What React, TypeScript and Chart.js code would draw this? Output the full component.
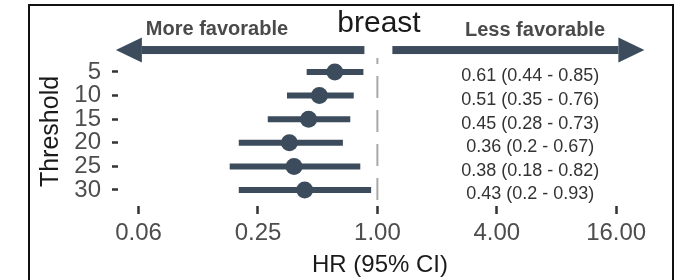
import React, { useEffect, useRef } from 'react';
import { Chart, registerables } from 'chart.js';

Chart.register(...registerables);

// ---- data ----
const thresholds = ['5', '10', '15', '20', '25', '30'];
const hrValues = [0.61, 0.51, 0.45, 0.36, 0.38, 0.43];
const ciLower = [0.44, 0.35, 0.28, 0.2, 0.18, 0.2];
const ciUpper = [0.85, 0.76, 0.73, 0.67, 0.82, 0.93];
const xTickValues = [0.0625, 0.25, 1, 4, 16];
const xTickLabels = ['0.06', '0.25', '1.00', '4.00', '16.00'];
const refValue = 1;
const titleText = 'breast';
const leftNote = 'More favorable';
const rightNote = 'Less favorable';
const xTitle = 'HR (95% CI)';
const yTitle = 'Threshold';
// arrow annotations (in HR units), and the row at which they sit
const leftArrow = [0.86, 0.048];
const rightArrow = [1.19, 22.2];
const arrowRow = -0.93;
const labelColumnHR = 5.9;

const FONT = "'Liberation Sans', Arial, Helvetica, sans-serif";
const MARK = '#3c4c5c';

const annotPlugin = {
  id: 'annot',
  beforeDatasetsDraw(chart: any) {
    const { ctx, chartArea, scales } = chart;
    const px = scales.x.getPixelForValue(refValue);
    ctx.save();
    ctx.strokeStyle = '#a8a8a8';
    ctx.lineWidth = 2;
    ctx.setLineDash([22, 12]);
    ctx.lineDashOffset = 16;
    ctx.beginPath();
    ctx.moveTo(px, chartArea.top);
    ctx.lineTo(px, chartArea.bottom);
    ctx.stroke();
    ctx.restore();
  },
  afterDraw(chart: any) {
    const { ctx, scales } = chart;
    const x = scales.x;
    const y = scales.y;
    ctx.save();

    // arrows
    const drawArrow = (from: number, to: number) => {
      const x0 = x.getPixelForValue(from);
      const x1 = x.getPixelForValue(to);
      const yy = y.getPixelForValue(arrowRow);
      const dir = x1 > x0 ? 1 : -1;
      const headLen = 26;
      const headHalf = 12.5;
      const base = x1 - dir * headLen;
      ctx.fillStyle = MARK;
      ctx.fillRect(Math.min(x0, base), yy - 4, Math.abs(base - x0), 8);
      ctx.beginPath();
      ctx.moveTo(x1, yy);
      ctx.lineTo(base, yy - headHalf);
      ctx.lineTo(base, yy + headHalf);
      ctx.closePath();
      ctx.fill();
    };
    drawArrow(leftArrow[0], leftArrow[1]);
    drawArrow(rightArrow[0], rightArrow[1]);

    // notes
    ctx.fillStyle = '#4a4a4a';
    ctx.font = `bold 20px ${FONT}`;
    ctx.textAlign = 'center';
    ctx.textBaseline = 'alphabetic';
    ctx.fillText(leftNote, 217, 35);
    ctx.fillText(rightNote, 535, 36);

    // title
    ctx.fillStyle = '#1a1a1a';
    ctx.font = `30px ${FONT}`;
    ctx.fillText(titleText, 379, 32);

    // HR labels column
    ctx.fillStyle = '#333333';
    ctx.font = `18px ${FONT}`;
    const cx = x.getPixelForValue(labelColumnHR);
    thresholds.forEach((_, i) => {
      const txt = `${hrValues[i]} (${ciLower[i]} - ${ciUpper[i]})`;
      ctx.fillText(txt, cx, y.getPixelForValue(i) + 9.5);
    });

    // axis titles
    ctx.fillStyle = '#1a1a1a';
    ctx.font = `24px ${FONT}`;
    ctx.fillText(xTitle, 380, 272);
    ctx.save();
    ctx.translate(58, 131.5);
    ctx.rotate(-Math.PI / 2);
    ctx.font = `25px ${FONT}`;
    ctx.fillText(yTitle, 0, 0);
    ctx.restore();

    // frame
    ctx.strokeStyle = '#111111';
    ctx.lineWidth = 2;
    ctx.strokeRect(29, 5, 644, 290);
    ctx.restore();
  },
};

export default function App() {
  const ref = useRef<HTMLCanvasElement | null>(null);

  useEffect(() => {
    if (!ref.current) return;
    const ciSets = thresholds.map((_, i) => ({
      type: 'scatter' as const,
      showLine: true,
      data: [
        { x: ciLower[i], y: i },
        { x: ciUpper[i], y: i },
      ],
      borderColor: MARK,
      borderWidth: 6,
      borderCapStyle: 'butt',
      pointRadius: 0,
      pointHoverRadius: 0,
    }));
    const pointSet = {
      type: 'scatter' as const,
      data: hrValues.map((v, i) => ({ x: v, y: i })),
      backgroundColor: MARK,
      borderColor: MARK,
      borderWidth: 0,
      pointRadius: 8.5,
      pointHoverRadius: 8.5,
    };

    const chart = new Chart(ref.current, {
      type: 'scatter',
      data: { datasets: [...ciSets, pointSet] as any },
      plugins: [annotPlugin],
      options: {
        animation: false,
        responsive: false,
        events: [],
        layout: { padding: { top: 58, right: 32, left: 0, bottom: 0 } },
        plugins: { legend: { display: false }, tooltip: { enabled: false } },
        scales: {
          x: {
            type: 'logarithmic',
            min: Math.pow(2, -4.345),
            max: Math.pow(2, 4.6),
            afterBuildTicks: (scale: any) => {
              scale.ticks = xTickValues.map((v) => ({ value: v }));
            },
            afterFit: (scale: any) => {
              scale.height = 74;
            },
            border: { display: false },
            grid: {
              drawOnChartArea: false,
              drawTicks: true,
              tickLength: 8,
              tickWidth: 2.5,
              tickColor: '#333333',
            },
            ticks: {
              autoSkip: false,
              maxRotation: 0,
              padding: 5,
              color: '#4d4d4d',
              font: { family: FONT, size: 24 },
              callback: (v: any) => {
                const idx = xTickValues.indexOf(Number(v));
                return idx >= 0 ? xTickLabels[idx] : '';
              },
            },
          },
          y: {
            type: 'linear',
            reverse: true,
            min: -0.593,
            max: 5.678,
            afterBuildTicks: (scale: any) => {
              scale.ticks = thresholds.map((_, i) => ({ value: i }));
            },
            afterFit: (scale: any) => {
              scale.width = 118;
            },
            border: { display: false },
            grid: {
              drawOnChartArea: false,
              drawTicks: true,
              tickLength: 6,
              tickWidth: 2.5,
              tickColor: '#333333',
            },
            ticks: {
              autoSkip: false,
              padding: 11,
              color: '#4d4d4d',
              font: { family: FONT, size: 24 },
              callback: (v: any) => thresholds[Number(v)] ?? '',
            },
          },
        },
      } as any,
    });
    return () => chart.destroy();
  }, []);

  return (
    <div style={{ position: 'absolute', left: 0, top: 0, width: 684, height: 280, background: '#fff' }}>
      <canvas ref={ref} width={684} height={280} style={{ display: 'block' }} />
    </div>
  );
}
